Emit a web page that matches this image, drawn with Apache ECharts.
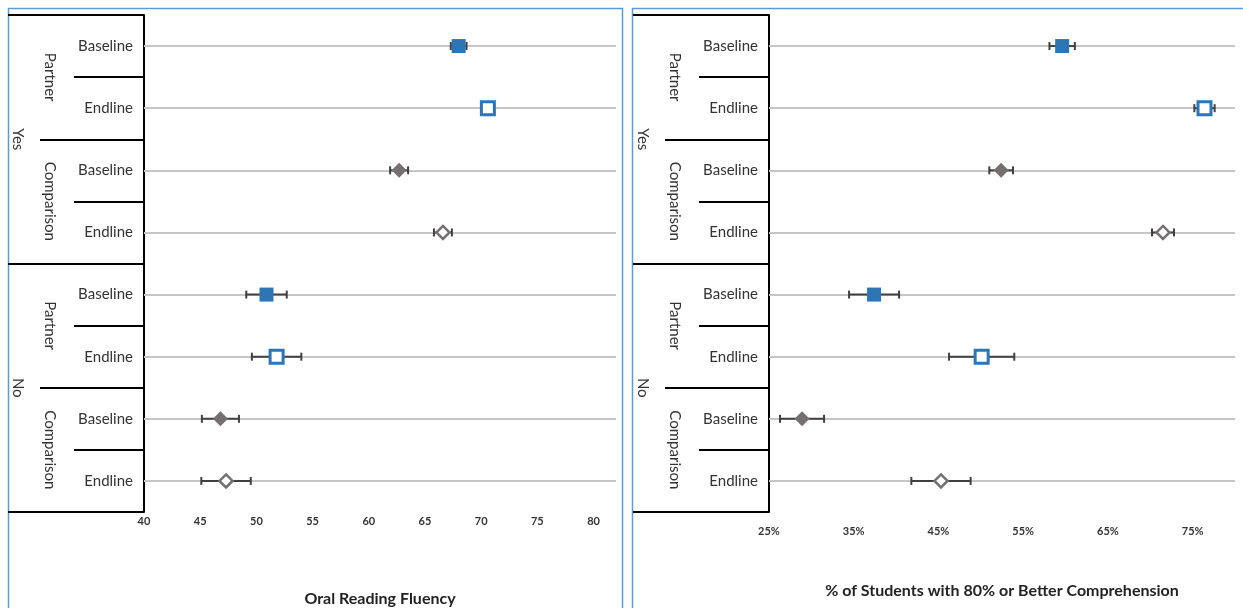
<!DOCTYPE html>
<html>
<head>
<meta charset="utf-8">
<script src="https://cdn.jsdelivr.net/npm/echarts@6/dist/echarts.min.js"></script>
<style>html,body{margin:0;padding:0;background:#fff}#c{width:1243px;height:608px}</style>
</head>
<body>
<div id="c"></div>
<script>
// ---- data ----
const rows = ['Yes|Partner|Baseline','Yes|Partner|Endline','Yes|Comparison|Baseline','Yes|Comparison|Endline',
              'No|Partner|Baseline','No|Partner|Endline','No|Comparison|Baseline','No|Comparison|Endline'];
const groups = ['Yes|Partner','Yes|Comparison','No|Partner','No|Comparison'];
const topGroups = ['Yes','No'];

// Oral Reading Fluency: mean and half-width of error bar
const orfMean = [68.0, 70.6, 62.7, 66.6, 50.9, 51.8, 46.8, 47.3];
const orfErr  = [0.7, 0.5, 0.8, 0.8, 1.8, 2.2, 1.65, 2.2];
// % of students with 80% or better comprehension
const compMean = [59.6, 76.4, 52.4, 71.5, 37.4, 50.1, 28.9, 45.3];
const compErr  = [1.5, 1.2, 1.4, 1.3, 2.95, 3.85, 2.6, 3.5];

const orfTitle = 'Oral Reading Fluency';
const compTitle = '% of Students with 80% or Better Comprehension';

// ---- styles ----
const FONT = 'Lato, "Open Sans", sans-serif';
const BLUE = '#2E75B6', GRAY = '#757070', BAR = '#404040', TXT = '#333333';

const chart = echarts.init(document.getElementById('c'), null, {renderer:'canvas'});

const grids = [
  {left:144, right:627, top:15, bottom:96, outerBoundsMode:'none', containLabel:false},
  {left:769, right:8, top:15, bottom:96, outerBoundsMode:'none', containLabel:false}
];

function yAxesFor(gi){
  const base = {type:'category', gridIndex:gi, inverse:true, position:'left', offset:0,
    splitLine:{show:false}};
  return [
    Object.assign({}, base, {data:rows,
      axisLine:{show:true, lineStyle:{color:'#000', width:2}},
      axisTick:{show:true, length:70, lineStyle:{color:'#000', width:2}},
      axisLabel:{margin:11, fontSize:15, color:TXT, fontFamily:FONT, formatter:v=>v.split('|')[2]}}),
    Object.assign({}, base, {data:groups,
      axisLine:{show:false},
      axisTick:{show:true, length:104, lineStyle:{color:'#000', width:2}},
      axisLabel:{margin:87, rotate:-90, fontSize:15, color:TXT, fontFamily:FONT, formatter:v=>v.split('|')[1]}}),
    Object.assign({}, base, {data:topGroups,
      axisLine:{show:false},
      axisTick:{show:true, length:136, lineStyle:{color:'#000', width:2}},
      axisLabel:{margin:119, rotate:-90, fontSize:15, color:TXT, fontFamily:FONT}})
  ];
}

const xAxes = [
  {type:'value', gridIndex:0, min:40, max:82, interval:5,
   axisLine:{show:false}, axisTick:{show:false}, splitLine:{show:false},
   axisLabel:{margin:4, fontSize:11, fontWeight:'bold', color:TXT, fontFamily:FONT, showMaxLabel:false},
   name:orfTitle, nameLocation:'middle', nameGap:79,
   nameTextStyle:{fontSize:16, fontWeight:'bold', color:'#222', fontFamily:FONT}},
  {type:'value', gridIndex:1, min:25, max:80, interval:10,
   axisLine:{show:false}, axisTick:{show:false}, splitLine:{show:false},
   axisLabel:{margin:14, fontSize:11, fontWeight:'bold', color:TXT, fontFamily:FONT, showMaxLabel:false, formatter:v=>v+'%'},
   name:compTitle, nameLocation:'middle', nameGap:71,
   nameTextStyle:{fontSize:16, fontWeight:'bold', color:'#222', fontFamily:FONT}}
];

const yAxes = yAxesFor(0).concat(yAxesFor(1));

function errRender(params, api){
  const y = api.value(0);
  const lo = api.coord([api.value(1), y]);
  const hi = api.coord([api.value(2), y]);
  const h = 4;
  const st = {stroke:BAR, lineWidth:2};
  return {type:'group', children:[
    {type:'line', shape:{x1:lo[0], y1:lo[1], x2:hi[0], y2:hi[1]}, style:st},
    {type:'line', shape:{x1:lo[0], y1:lo[1]-h, x2:lo[0], y2:lo[1]+h}, style:st},
    {type:'line', shape:{x1:hi[0], y1:hi[1]-h, x2:hi[0], y2:hi[1]+h}, style:st}
  ]};
}

function panelSeries(gi, mean, err){
  const xi = gi, yi = gi*3;
  const pts = idx => idx.map(i => [mean[i], i]);
  return [
    {type:'custom', xAxisIndex:xi, yAxisIndex:yi, z:2, silent:true,
     renderItem:errRender, encode:{x:[1,2], y:0},
     data: mean.map((m,i) => [i, m-err[i], m+err[i]]),
     markLine:{z:1, silent:true, symbol:'none', animation:false, label:{show:false},
       lineStyle:{color:'#c6c6c6', width:2, type:'solid'},
       data: rows.map(r => ({yAxis:r}))}},
    {type:'scatter', xAxisIndex:xi, yAxisIndex:yi, z:3, silent:true,
     symbol:'rect', symbolSize:14, itemStyle:{color:BLUE, opacity:1}, data:pts([0,4])},
    {type:'scatter', xAxisIndex:xi, yAxisIndex:yi, z:3, silent:true,
     symbol:'rect', symbolSize:13, itemStyle:{color:'#fff', borderColor:BLUE, borderWidth:3, opacity:1}, data:pts([1,5])},
    {type:'scatter', xAxisIndex:xi, yAxisIndex:yi, z:3, silent:true,
     symbol:'diamond', symbolSize:15, itemStyle:{color:GRAY, opacity:1}, data:pts([2,6])},
    {type:'scatter', xAxisIndex:xi, yAxisIndex:yi, z:3, silent:true,
     symbol:'diamond', symbolSize:13, itemStyle:{color:'#fff', borderColor:GRAY, borderWidth:2.5, opacity:1}, data:pts([3,7])}
  ];
}

chart.setOption({
  animation:false,
  textStyle:{fontFamily:FONT},
  grid:grids,
  xAxis:xAxes,
  yAxis:yAxes,
  graphic:[
    {type:'rect', silent:true, z:-10, shape:{x:8.5, y:8.5, width:614, height:700},
     style:{fill:null, stroke:'#5B9BD5', lineWidth:1.5}},
    {type:'rect', silent:true, z:-10, shape:{x:632.5, y:8.5, width:700, height:700},
     style:{fill:null, stroke:'#5B9BD5', lineWidth:1.5}}
  ],
  series: panelSeries(0, orfMean, orfErr).concat(panelSeries(1, compMean, compErr))
});
</script>
</body>
</html>
